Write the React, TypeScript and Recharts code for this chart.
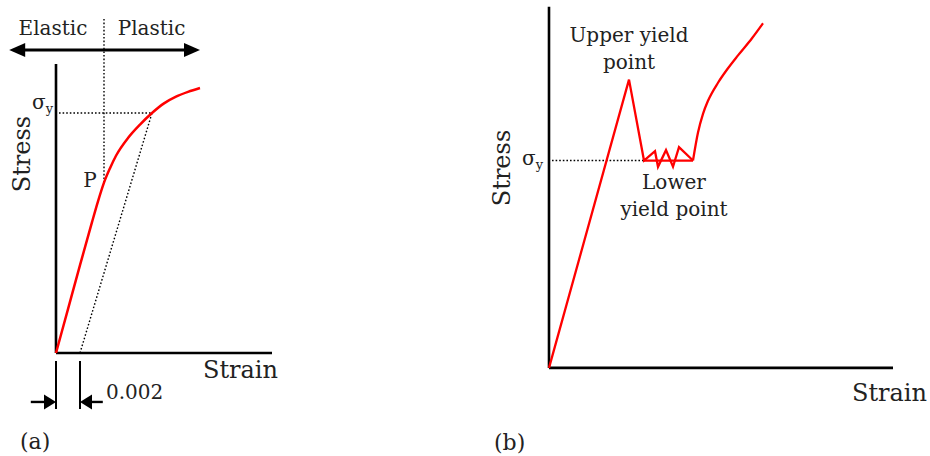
import { ComposedChart, Line, XAxis, YAxis, ReferenceLine, ReferenceDot } from "recharts";

// (a) gradual yielding, 0.2% offset method (stress given as σ/σy)
const strainA = [0, 0.001, 0.002, 0.003, 0.0035, 0.004, 0.0045, 0.005, 0.006, 0.007, 0.008, 0.009, 0.01, 0.011, 0.012];
const stressA = [0, 0.183, 0.366, 0.545, 0.632, 0.71, 0.77, 0.822, 0.896, 0.952, 1.0, 1.04, 1.068, 1.088, 1.104];
const offsetStrain = [0.002, 0.008];
const offsetStress = [0, 1.0];
const OFFSET = 0.002;
const SIGMA_Y = 1.0;
const P_STRAIN = 0.004;
const P_STRESS = 0.71;

// (b) discontinuous yielding: upper / lower yield point
const strainB = [0, 0.008, 0.0095, 0.0106, 0.0109, 0.0117, 0.0124, 0.013, 0.0144];
const stressB = [0, 1.39, 1.0, 1.045, 0.97, 1.05, 0.97, 1.065, 1.0];
const plateauStrain = [0.0095, 0.0144];
const plateauStress = [1.0, 1.0];
const hardenStrain = [0.0144, 0.0149, 0.0154, 0.0159, 0.0169, 0.0179, 0.0189, 0.0203, 0.0214];
const hardenStress = [1.0, 1.135, 1.225, 1.288, 1.375, 1.445, 1.507, 1.59, 1.662];

const zip = (xs: number[], ys: number[]) => xs.map((x, i) => ({ strain: x, stress: ys[i] }));

const curveA = zip(strainA, stressA);
const offsetA = zip(offsetStrain, offsetStress);
const curveB = zip(strainB, stressB);
const plateauB = zip(plateauStrain, plateauStress);
const hardenB = zip(hardenStrain, hardenStress);

const INK = "#222";
const RED = "#ff0000";
const FONT = "DejaVu Serif";

// line with filled arrow heads drawn at the requested ends
const arrow = (start: boolean, end: boolean, len: number, half: number, width: number) => (p: any) => {
  const { x1, y1, x2, y2 } = p;
  const d = Math.hypot(x2 - x1, y2 - y1) || 1;
  const ux = (x2 - x1) / d;
  const uy = (y2 - y1) / d;
  const head = (tx: number, ty: number, dx: number, dy: number) => {
    const bx = tx - dx * len;
    const by = ty - dy * len;
    return `${tx},${ty} ${bx - dy * half},${by + dx * half} ${bx + dy * half},${by - dx * half}`;
  };
  const sx = start ? x1 + ux * (len - 1) : x1;
  const sy = start ? y1 + uy * (len - 1) : y1;
  const ex = end ? x2 - ux * (len - 1) : x2;
  const ey = end ? y2 - uy * (len - 1) : y2;
  return (
    <g>
      <line x1={sx} y1={sy} x2={ex} y2={ey} stroke="#000" strokeWidth={width} />
      {start && <polygon points={head(x1, y1, -ux, -uy)} fill="#000" />}
      {end && <polygon points={head(x2, y2, ux, uy)} fill="#000" />}
    </g>
  );
};

type NoteOpts = { size?: number; anchor?: "start" | "middle" | "end"; rotate?: boolean; dy?: number };

const note = (key: string, x: number, y: number, content: any, o: NoteOpts = {}) => (
  <ReferenceDot
    key={key}
    x={x}
    y={y}
    r={0}
    ifOverflow="visible"
    shape={(p: any) => (
      <text
        x={p.cx}
        y={p.cy}
        dy={o.dy ?? 7}
        fontSize={o.size ?? 20}
        fontFamily={FONT}
        fill={INK}
        textAnchor={o.anchor ?? "middle"}
        transform={o.rotate ? `rotate(-90, ${p.cx}, ${p.cy})` : undefined}
      >
        {content}
      </text>
    )}
  />
);

const sigmaY = (
  <>
    <tspan>σ</tspan>
    <tspan fontSize={13} dy={4}>y</tspan>
  </>
);

const seg = (key: string, x1: number, y1: number, x2: number, y2: number, props: any) => (
  <ReferenceLine
    key={key}
    segment={[{ x: x1, y: y1 }, { x: x2, y: y2 }]}
    ifOverflow="visible"
    {...props}
  />
);

const axisStyle = { stroke: "#000", strokeWidth: 2.6 };
const dotted = { stroke: "#000", strokeWidth: 1.4, strokeDasharray: "1.6 2" };

const PanelA = () => (
  <ComposedChart width={288} height={450} margin={{ top: 0, right: 0, bottom: 0, left: 0 }}>
    <XAxis type="number" dataKey="strain" domain={[-0.004, 0.02]} hide allowDataOverflow />
    <YAxis type="number" dataKey="stress" domain={[-0.425, 1.45]} hide allowDataOverflow />

    {seg("ax-y", 0, 0, 0, 1.204, axisStyle)}
    {seg("ax-x", 0, 0, 0.018, 0, axisStyle)}

    {seg("sy", 0.00025, SIGMA_Y, 0.008, SIGMA_Y, dotted)}
    {seg("p-v", P_STRAIN, P_STRESS, P_STRAIN, 1.396, dotted)}

    {seg("reg", -0.0039, 1.2625, 0.012, 1.2625, { shape: arrow(true, true, 16, 7, 3) })}

    {seg("t0", 0, -0.033, 0, -0.233, { stroke: "#000", strokeWidth: 2 })}
    {seg("t1", OFFSET, -0.033, OFFSET, -0.233, { stroke: "#000", strokeWidth: 2 })}
    {seg("a0", -0.0021, -0.204, 0, -0.204, { shape: arrow(false, true, 12, 7.5, 2.4) })}
    {seg("a1", 0.0039, -0.204, OFFSET, -0.204, { shape: arrow(false, true, 12, 7.5, 2.4) })}

    <Line
      data={offsetA}
      dataKey="stress"
      type="linear"
      stroke="#000"
      strokeWidth={1.4}
      strokeDasharray="1.6 2"
      dot={false}
      isAnimationActive={false}
    />
    <Line
      data={curveA}
      dataKey="stress"
      type="monotone"
      stroke={RED}
      strokeWidth={2.5}
      dot={false}
      isAnimationActive={false}
    />

    {note("el", -0.00025, 1.354, "Elastic")}
    {note("pl", 0.00796, 1.354, "Plastic")}
    {note("sig", -0.00025, SIGMA_Y + 0.045, sigmaY, { anchor: "end" })}
    {note("st", -0.00283, 0.829, "Stress", { size: 24, rotate: true, dy: 8 })}
    {note("p", P_STRAIN - 0.0006, P_STRESS + 0.01, "P", { anchor: "end" })}
    {note("sn", 0.01225, -0.071, "Strain", { size: 24, anchor: "start", dy: 8 })}
    {note("off", 0.00417, -0.1625, "0.002", { anchor: "start" })}
    {note("la", -0.003, -0.367, "(a)", { size: 22, anchor: "start", dy: 8 })}
  </ComposedChart>
);

const PanelB = () => (
  <ComposedChart width={440} height={450} margin={{ top: 0, right: 0, bottom: 0, left: 0 }}>
    <XAxis type="number" dataKey="strain" domain={[-0.006, 0.038]} hide allowDataOverflow />
    <YAxis type="number" dataKey="stress" domain={[-0.42, 1.75]} hide allowDataOverflow />

    {seg("ax-y", 0, 0, 0, 1.742, axisStyle)}
    {seg("ax-x", 0, 0, 0.0344, 0, axisStyle)}
    {seg("sy", 0.0003, SIGMA_Y, 0.0095, SIGMA_Y, dotted)}

    <Line
      data={plateauB}
      dataKey="stress"
      type="linear"
      stroke={RED}
      strokeWidth={2.3}
      dot={false}
      isAnimationActive={false}
    />
    <Line
      data={curveB}
      dataKey="stress"
      type="linear"
      stroke={RED}
      strokeWidth={2.3}
      dot={false}
      isAnimationActive={false}
    />
    <Line
      data={hardenB}
      dataKey="stress"
      type="monotone"
      stroke={RED}
      strokeWidth={2.3}
      dot={false}
      isAnimationActive={false}
    />

    {note("up1", 0.008, 1.605, "Upper yield")}
    {note("up2", 0.008, 1.475, "point")}
    {note("lo1", 0.0125, 0.896, "Lower")}
    {note("lo2", 0.0125, 0.766, "yield point")}
    {note("sig", -0.0006, SIGMA_Y, sigmaY, { anchor: "end", dy: 4 })}
    {note("st", -0.0047, 0.964, "Stress", { size: 24, rotate: true, dy: 8 })}
    {note("sn", 0.0303, -0.121, "Strain", { size: 24, anchor: "start", dy: 8 })}
    {note("lb", -0.0055, -0.357, "(b)", { size: 22, anchor: "start", dy: 8 })}
  </ComposedChart>
);

export default function App() {
  return (
    <div style={{ position: "absolute", left: 0, top: 0, width: 930, height: 456, background: "#fff" }}>
      <div style={{ position: "absolute", left: 8, top: 5 }}>
        <PanelA />
      </div>
      <div style={{ position: "absolute", left: 489, top: 5 }}>
        <PanelB />
      </div>
    </div>
  );
}
